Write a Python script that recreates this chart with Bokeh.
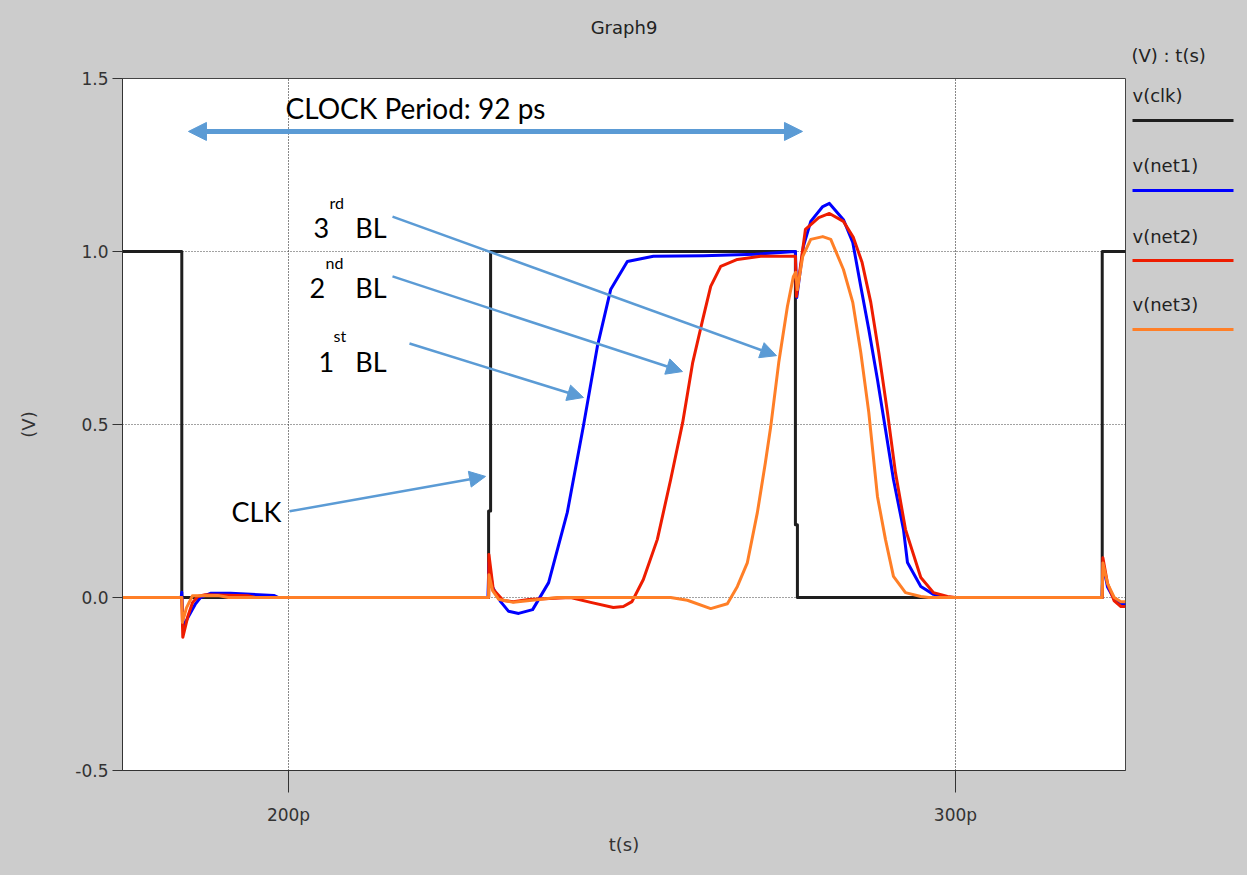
from bokeh.plotting import figure
from bokeh.layouts import row
from bokeh.models import (Range1d, FixedTicker, Label, Arrow, NormalHead, Title,
                          NumeralTickFormatter, PrintfTickFormatter)
from bokeh.core.properties import value
from bokeh.embed import file_html
from bokeh.resources import INLINE

# ---------------- data (time in ps, voltage in V) ----------------
TITLE = "Graph9"
X_LABEL = "t(s)"
Y_LABEL = "(V)"
LEGEND_HEADER = "(V) : t(s)"
series_names = ["v(clk)", "v(net1)", "v(net2)", "v(net3)"]
series_colors = ["#1e1e1e", "#0000ff", "#ee1c00", "#ff7f27"]
x_ticks = [200, 300]
y_ticks = [-0.5, 0.0, 0.5, 1.0, 1.5]

clk_t = [175.0, 184.0, 184.0, 230.0, 230.0, 230.3, 230.3, 276.0, 276.0, 276.3, 276.3, 322.0, 322.0, 326.0]
clk_v = [1.0, 1.0, 0.0, 0.0, 0.25, 0.25, 1.0, 1.0, 0.21, 0.21, 0.0, 0.0, 1.0, 1.0]

net1_t = [175.0, 183.9, 184.0, 184.2, 185.0, 186.0, 186.8, 188.3, 191.3, 197.8, 198.5,
          229.9, 230.05, 230.6, 231.8, 233.0, 234.5, 236.6, 239.0, 241.8, 244.2, 246.3,
          248.3, 250.8, 254.7, 262.2, 270.0, 276.0, 276.2, 277.2, 278.3, 280.1, 281.1,
          283.2, 284.6, 285.8, 287.0, 288.3, 289.5, 290.7, 292.2, 292.8, 294.8, 296.7,
          298.8, 322.0, 322.1, 322.8, 323.8, 324.8, 325.5]
net1_v = [0.0, 0.0, 0.015, -0.085, -0.055, -0.02, 0.0, 0.012, 0.012, 0.006, 0.0,
          0.0, 0.10, 0.03, -0.012, -0.04, -0.046, -0.035, 0.043, 0.246, 0.494, 0.725,
          0.890, 0.971, 0.986, 0.988, 0.992, 1.0, 0.867, 1.015, 1.087, 1.130, 1.139,
          1.092, 1.026, 0.899, 0.775, 0.630, 0.486, 0.341, 0.197, 0.101, 0.032, 0.009,
          0.0, 0.0, 0.10, 0.03, -0.005, -0.018, -0.02]

net2_t = [175.0, 184.0, 184.15, 184.9, 185.6, 186.4, 187.5, 193.9, 195.0,
          230.0, 230.05, 230.7, 232.2, 233.7, 236.0, 242.3, 245.3, 248.7, 250.2, 251.5,
          253.2, 255.3, 257.3, 259.1, 260.6, 262.1, 263.3, 264.8, 267.3, 270.8, 276.0,
          276.15, 277.5, 279.5, 281.1, 283.2, 284.7, 286.0, 287.3, 288.5, 289.8, 291.0,
          292.5, 294.8, 296.7, 298.8, 300.0, 322.0, 322.1, 322.8, 323.8, 324.8, 325.5]
net2_v = [0.0, 0.0, -0.115, -0.055, -0.015, 0.003, 0.008, 0.005, 0.0,
          0.0, 0.124, 0.023, -0.009, -0.012, -0.006, 0.0, -0.014, -0.029, -0.026, -0.012,
          0.052, 0.168, 0.341, 0.506, 0.679, 0.803, 0.899, 0.957, 0.977, 0.986, 0.986,
          0.87, 1.064, 1.098, 1.110, 1.087, 1.040, 0.968, 0.853, 0.708, 0.535, 0.361,
          0.197, 0.058, 0.014, 0.003, 0.0, 0.0, 0.115, 0.04, -0.01, -0.026, -0.026]

net3_t = [175.0, 184.0, 184.1, 184.7, 185.6, 189.4, 191.0,
          230.0, 230.05, 230.6, 231.5, 233.7, 236.5, 240.3, 257.3, 259.8, 263.3, 265.8,
          267.3, 268.8, 270.3, 271.5, 272.3, 273.5, 274.8, 275.7, 276.05, 276.3, 277.1,
          278.3, 280.1, 281.3, 283.2, 284.6, 285.8, 287.0, 288.3, 289.5, 290.7, 292.5,
          294.8, 296.0, 322.0, 322.1, 322.8, 323.8, 324.8, 325.5]
net3_v = [0.0, 0.0, -0.072, -0.03, 0.005, 0.006, 0.0,
          0.0, 0.066, 0.02, -0.005, -0.014, -0.008, 0.0, 0.0, -0.008, -0.032, -0.018,
          0.032, 0.101, 0.246, 0.390, 0.494, 0.679, 0.841, 0.928, 0.94, 0.89, 0.986,
          1.035, 1.043, 1.035, 0.948, 0.853, 0.708, 0.535, 0.292, 0.168, 0.061, 0.014,
          0.003, 0.0, 0.0, 0.10, 0.04, 0.0, -0.012, -0.012]

series_t = [clk_t, net1_t, net2_t, net3_t]
series_v = [clk_v, net1_v, net2_v, net3_v]

# ---------------- main figure ----------------
GRAY = "#cccccc"
AXIS_COL = "#333333"
TICK_FONT = "DejaVu Sans"
ANNOT_FONT = "Lato"
ANNOT_BLUE = "#5b9bd5"

p = figure(frame_width=1003, frame_height=692,
           x_range=Range1d(175.11, 325.49), y_range=Range1d(-0.5, 1.5),
           min_border_left=122, min_border_right=2, min_border_top=78, min_border_bottom=105,
           background_fill_color="white", border_fill_color=GRAY,
           output_backend="svg", toolbar_location=None)
p.outline_line_color = "#444444"
p.outline_line_width = 1

# spacer title next to the frame, then the visible title above it
p.add_layout(Title(text=" ", text_font_size="12px", standoff=25), "above")
p.add_layout(Title(text=TITLE, align="center", text_font=TICK_FONT, text_font_size="18px",
                   text_font_style="normal", text_color="#222222", standoff=0), "above")

# axes
p.xaxis.ticker = FixedTicker(ticks=x_ticks)
p.xaxis.formatter = PrintfTickFormatter(format="%dp")
p.yaxis.ticker = FixedTicker(ticks=y_ticks)
p.yaxis.formatter = NumeralTickFormatter(format="0.0")
for ax in (p.xaxis[0], p.yaxis[0]):
    ax.axis_line_color = AXIS_COL
    ax.major_tick_line_color = AXIS_COL
    ax.minor_tick_line_color = None
    ax.major_tick_in = 0
    ax.major_label_text_font = TICK_FONT
    ax.major_label_text_font_size = "17px"
    ax.major_label_text_color = AXIS_COL
    ax.axis_label_text_font = TICK_FONT
    ax.axis_label_text_font_size = "18px"
    ax.axis_label_text_font_style = "normal"
    ax.axis_label_text_color = AXIS_COL
p.xaxis.axis_label = X_LABEL
p.yaxis.axis_label = Y_LABEL
p.xaxis.major_tick_out = 22
p.xaxis.major_label_standoff = 12
p.xaxis.axis_label_standoff = 6
p.yaxis.major_tick_out = 10
p.yaxis.major_label_standoff = 4
p.yaxis.axis_label_standoff = 33

# grid
p.xgrid.grid_line_color = "#111111"
p.xgrid.grid_line_dash = "1 2"
p.ygrid.grid_line_color = "#444444"
p.ygrid.grid_line_dash = "1 2"

# curves
for t, v, c in zip(series_t, series_v, series_colors):
    p.line(t, v, line_color=c, line_width=3, line_join="round")

# annotations inside the plot
p.add_layout(Label(x=199.55, y=1.414, text="CLOCK Period: 92 ps", text_font=ANNOT_FONT,
                   text_font_size="28px", text_color="black", text_baseline="alphabetic"))
p.add_layout(Arrow(start=NormalHead(size=18, fill_color=ANNOT_BLUE, line_color=ANNOT_BLUE),
                   end=NormalHead(size=18, fill_color=ANNOT_BLUE, line_color=ANNOT_BLUE),
                   x_start=185.0, y_start=1.347, x_end=277.06, y_end=1.347,
                   line_color=ANNOT_BLUE, line_width=5))

bl_labels = [("3", "rd", 203.75, 206.15, 1.068, 1.141),
             ("2", "nd", 203.15, 205.55, 0.895, 0.967),
             ("1", "st", 204.50, 206.75, 0.681, 0.756)]
for big, sup, xb, xs, yb, ys in bl_labels:
    p.add_layout(Label(x=xb, y=yb, text=big, text_font=ANNOT_FONT, text_font_size="27px",
                       text_color="black", text_baseline="alphabetic"))
    p.add_layout(Label(x=xs, y=ys, text=sup, text_font=ANNOT_FONT, text_font_size="16px",
                       text_color="black", text_baseline="alphabetic"))
    p.add_layout(Label(x=210.0, y=yb, text="BL", text_font=ANNOT_FONT, text_font_size="27px",
                       text_color="black", text_baseline="alphabetic"))
p.add_layout(Label(x=191.45, y=0.248, text="CLK", text_font=ANNOT_FONT, text_font_size="27px",
                   text_color="black", text_baseline="alphabetic"))

arrows = [(215.59, 1.101, 273.16, 0.699),
          (215.59, 0.928, 259.07, 0.653),
          (218.14, 0.734, 244.23, 0.578),
          (200.15, 0.249, 229.54, 0.350)]
for xs_, ys_, xe, ye in arrows:
    p.add_layout(Arrow(end=NormalHead(size=16, fill_color=ANNOT_BLUE, line_color=ANNOT_BLUE),
                       x_start=xs_, y_start=ys_, x_end=xe, y_end=ye,
                       line_color=ANNOT_BLUE, line_width=2.5))

# ---------------- legend panel (page pixel coordinates, y downwards) ----------------
leg = figure(width=120, height=875, x_range=Range1d(1127, 1247), y_range=Range1d(770, 78),
             min_border_left=0, min_border_right=0, min_border_top=78, min_border_bottom=105,
             x_axis_type=None, y_axis_type=None,
             background_fill_color=GRAY, border_fill_color=GRAY, outline_line_color=None,
             output_backend="svg", toolbar_location=None)
leg.grid.visible = False
leg.title.text = LEGEND_HEADER
leg.title.align = "left"
leg.title.offset = 4
leg.title.standoff = 25
leg.title.text_font = TICK_FONT
leg.title.text_font_size = "18px"
leg.title.text_font_style = "normal"
leg.title.text_color = "#222222"

legend_text_y = [95, 165, 236, 304]
legend_line_y = [120, 190, 260, 329]
leg.text(x=[1132] * 4, y=legend_text_y, text=series_names, text_font=value(TICK_FONT),
         text_font_size="18px", text_color="#222222", text_baseline="middle")
for c, ly in zip(series_colors, legend_line_y):
    leg.line(x=[1132, 1233], y=[ly, ly], line_color=c, line_width=3)

layout = row(p, leg, spacing=0)
layout.styles = {"background-color": GRAY}
open("out.html", "w").write(file_html(layout, INLINE))
